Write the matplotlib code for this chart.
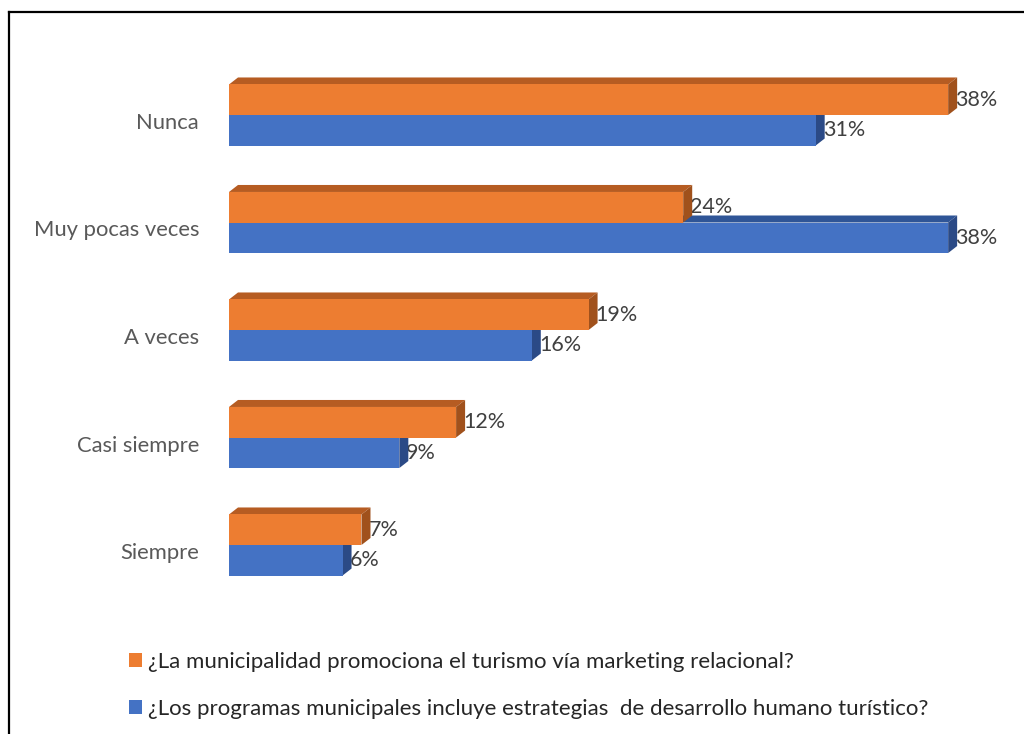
import matplotlib
matplotlib.use("Agg")
import matplotlib.pyplot as plt
from matplotlib.patches import Polygon, Patch
from matplotlib.lines import Line2D

plt.rcParams['font.family'] = ['Lato', 'DejaVu Sans']

categories = ["Nunca", "Muy pocas veces", "A veces", "Casi siempre", "Siempre"]
marketing = [38, 24, 19, 12, 7]
desarrollo = [31, 38, 16, 9, 6]
series_labels = [
    "¿La municipalidad promociona el turismo vía marketing relacional?",
    "¿Los programas municipales incluye estrategias  de desarrollo humano turístico?",
]

W, H = 1024, 734
fig = plt.figure(figsize=(W / 100, H / 100), dpi=100)

# axes geometry in pixels
ax_left, ax_width = 229, 757
ax_top, ax_height = 61.25, 537.5
ax = fig.add_axes([ax_left / W, (H - ax_top - ax_height) / H, ax_width / W, ax_height / H])
xmax = 40
ax.set_xlim(0, xmax)
ax.set_ylim(len(categories) - 0.5, -0.5)
ax.axis('off')

bar_h = 0.284
# 3D depth, converted from pixels to data units
dx = 9 / (ax_width / xmax)
dy = 7 / (ax_height / len(categories))

orange = dict(front="#ED7D31", top="#B65C22", side="#A0511C")
blue = dict(front="#4472C4", top="#2F5597", side="#2B4A86")


def draw_series(values, offset, col, z):
    ys = [i + offset for i in range(len(values))]
    ax.barh(ys, values, height=bar_h, color=col["front"], zorder=z + 0.2, linewidth=0)
    for y, v in zip(ys, values):
        y0 = y - bar_h / 2
        y1 = y + bar_h / 2
        top = Polygon([(0, y0), (v, y0), (v + dx, y0 - dy), (dx, y0 - dy)],
                      closed=True, facecolor=col["top"], linewidth=0, zorder=z)
        side = Polygon([(v, y0), (v + dx, y0 - dy), (v + dx, y1 - dy), (v, y1)],
                       closed=True, facecolor=col["side"], linewidth=0, zorder=z + 0.1)
        ax.add_patch(top)
        ax.add_patch(side)
        ax.annotate(f"{v}%", xy=(v, y), xytext=(7, 0), textcoords='offset pixels',
                    ha='left', va='center', fontsize=15.5, color="#404040", zorder=1)


draw_series(desarrollo, bar_h / 2, blue, 2)
draw_series(marketing, -bar_h / 2, orange, 3)

for i, c in enumerate(categories):
    ax.annotate(c, xy=(0, i), xytext=(-30, -8), textcoords='offset pixels',
                ha='right', va='center', fontsize=15.8, color="#595959",
                annotation_clip=False)

handles = [Patch(facecolor=orange["front"], edgecolor='none'),
           Patch(facecolor=blue["front"], edgecolor='none')]
fig.legend(handles, series_labels, loc='upper left',
           bbox_to_anchor=(129 / W, 1 - 652 / H), frameon=False,
           fontsize=16, labelcolor="#262626", handlelength=0.6, handleheight=0.6,
           handletextpad=0.25, labelspacing=1.2, borderaxespad=0, borderpad=0)

# outer frame of the chart area
fig.add_artist(Line2D([9 / W, 9 / W], [0, 1 - 12 / H], color='black', lw=1.6,
                      transform=fig.transFigure))
fig.add_artist(Line2D([9 / W, 1], [1 - 12 / H, 1 - 12 / H], color='black', lw=1.6,
                      transform=fig.transFigure))

fig.savefig("out.png", dpi=100)
